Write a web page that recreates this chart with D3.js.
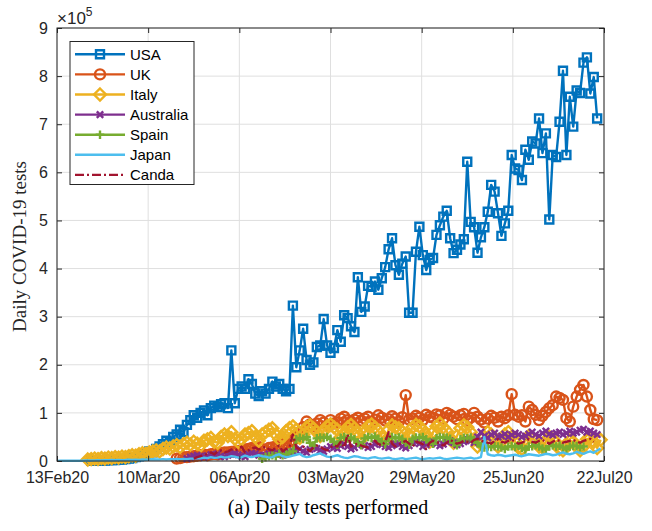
<!DOCTYPE html>
<html>
<head>
<meta charset="utf-8">
<script src="https://cdn.jsdelivr.net/npm/d3@7"></script>
<style>
  body { margin: 0; background: #fff; }
  svg { display: block; }
  .tick text { font-family: "Liberation Sans", Arial, sans-serif; font-size: 16px; fill: #262626; }
</style>
</head>
<body>
<div id="chart"></div>
<script>
// Daily tests (in thousands), one value per day from each series' first day
// day 0 = 13 Feb 2020
const countries = ["USA", "UK", "Italy", "Australia", "Spain", "Japan", "Canda"];
const firstDay = [10, 35, 9, 38, 60, 0, 40];

const usa = [0.5,0.5,1,1,1,2,2,2,3,3,
  4,5,6,8,10,12,15,20,18,25,
  30,35,42,40,50,55,65,60,75,85,
  95,90,100,105,95,110,115,112,118,120,
  110,230,120,150,155,150,170,160,140,135,
  145,140,150,165,155,160,150,145,150,323,
  195,230,275,210,200,205,237,240,295,240,
  225,235,272,248,303,297,280,268,382,310,
  321,364,362,373,356,380,403,440,463,407,
  387,410,425,308,308,435,487,428,397,418,
  422,470,490,508,520,463,432,439,450,461,
  622,497,486,433,465,486,518,574,560,515,
  468,494,520,636,608,605,584,647,626,664,
  660,712,640,681,502,636,632,705,811,636,
  757,695,770,765,828,839,764,798,712];

const uk = [5,6,8,8,9,10,11,12,13,12,14,15,14,16,18,
  18,19,20,21,22,24,25,27,28,29,
  25,22,27,28,30,33,35,37,40,43,
  50,60,70,82,76,72,78,85,80,74,
  85,78,80,88,92,85,82,86,90,84,
  88,92,80,86,95,90,84,87,93,88,
  82,91,137,86,88,94,90,85,96,92,
  90,97,95,88,100,96,92,87,95,98,
  84,90,100,92,86,80,88,94,90,82,
  92,89,95,139,96,92,95,82,113,106,
  96,85,94,102,110,116,134,131,127,89,
  82,113,134,148,158,134,106,87,85];

const italy = [3,4,5,4,6,5,7,6,8,7,9,
  8,10,12,11,14,16,15,18,20,22,
  20,25,28,26,30,33,29,35,38,34,
  40,36,32,42,45,48,40,38,50,55,
  52,60,46,40,45,55,58,62,50,42,
  55,60,65,68,55,45,50,62,68,72,
  65,48,55,70,74,68,60,52,62,72,
  76,70,65,50,58,70,75,68,58,45,
  60,72,76,70,62,50,42,65,74,70,
  68,60,45,55,70,75,72,65,55,40,
  60,72,78,70,62,48,38,52,68,74,
  70,60,45,30,35,50,60,55,45,30,
  40,55,60,50,40,28,25,45,52,48,
  42,30,28,40,50,45,38,25,22,35,
  42,40,30,22,30,45,48,40,27,44];

const australia = [5,8,10,12,10,8,11,13,12,15,10,9,
  12,14,15,13,10,9,14,16,15,12,
  10,12,15,18,16,14,12,15,18,20,
  22,25,20,18,24,28,26,22,20,25,
  30,28,26,32,35,30,25,28,33,36,
  32,28,30,35,38,34,30,28,32,36,
  35,30,27,32,38,40,36,30,34,38,
  40,36,32,35,40,42,38,34,36,40,
  45,42,38,50,60,52,48,55,58,50,
  52,56,50,54,58,55,50,52,56,60,
  55,52,58,62,56,54,58,60,55,58,
  62,58,60,64,66,60,62,58,55];

const spain = [5,8,10,12,10,15,12,14,18,20,
  45,48,46,50,38,32,47,49,48,50,
  46,40,34,48,50,47,49,45,38,33,
  47,50,48,51,46,40,35,48,50,47,
  49,46,38,34,46,49,48,50,45,40,
  36,47,50,48,49,46,38,33,45,48,
  47,49,44,38,30,28,30,29,31,30,
  28,25,30,31,29,32,27,24,30,31,
  33,30,26,24,31,33,30,32,28,25,
  30,32,31,28,30];

const japan = [0.3,0.4,0.5,0.4,0.6,0.5,0.8,0.6,0.9,1,
  1,1.2,1.5,1.3,1.8,1.5,2,1.6,2.2,1.8,
  2,2.5,2,2.8,2.2,3,2.5,3,3.5,3,
  3.2,3.8,3,4,3.5,4.2,3.8,4.5,4,5,
  5,6,5.5,7,6,8,6.5,7,9,7,
  8,10,9,7,8,11,9,8,10,12,
  10,9,7,8,12,14,10,8,9,11,
  13,15,10,8,9,12,14,16,12,9,
  8,10,12,9,7,6,8,10,9,7,
  6,5,7,8,6,5,6,7,5,4,
  5,6,4,5,6,7,5,4,5,6,
  5,6,7,5,4,5,6,7,6,5,
  6,7,5,6,8,50,14,12,11,13,
  12,10,11,12,13,11,10,12,14,13,
  12,11,13,15,14,12,13,16,18,15,
  14,16,19,17,15,18,20,17,22,26];

const canada = [5,8,10,12,15,18,14,20,22,18,
  20,24,22,25,30,18,22,26,28,24,
  26,30,24,22,28,32,20,25,30,55,
  28,24,30,26,20,28,32,30,25,22,
  28,33,30,40,28,55,30,34,36,32,
  30,28,38,42,35,32,40,60,36,30,
  34,38,42,36,30,40,38,35,25,38,
  42,40,36,32,38,44,40,36,38,42,
  40,38,44,46,42,40,38,36,42,45,
  40,38,42,44,40,36,38,42,45,40,
  38,42,44,40,36,40,44,42,38,40,
  42,44,40,38,42,44,46,40];

const seriesValues = [usa, uk, italy, australia, spain, japan, canada];

const xTickLabels = ["13Feb20", "10Mar20", "06Apr20", "03May20", "29May20", "25Jun20", "22Jul20"];
const yTickLabels = ["0", "1", "2", "3", "4", "5", "6", "7", "8", "9"];

const colors = ["#0072BD", "#D95319", "#EDB120", "#7E2F8E", "#77AC30", "#4DBEEE", "#A2142F"];
const markers = ["square", "circle", "diamond", "x", "plus", null, null];

const width = 652, height = 531;
const plotLeft = 57, plotRight = 604, plotTop = 28, plotBottom = 461;

const startDate = new Date(2020, 1, 13);
const endDate = new Date(2020, 6, 22);

const svg = d3.select("#chart").append("svg")
  .attr("width", width)
  .attr("height", height);

const x = d3.scaleTime().domain([startDate, endDate]).range([plotLeft, plotRight]);
const y = d3.scaleLinear().domain([0, 900]).range([plotBottom, plotTop]);

const xTicks = d3.range(7).map(i => new Date(+startDate + i * (endDate - startDate) / 6));
const yTicks = d3.range(0, 901, 100);

// grid
svg.append("g").selectAll("line").data(xTicks).join("line")
  .attr("x1", d => x(d)).attr("x2", d => x(d))
  .attr("y1", plotTop).attr("y2", plotBottom)
  .attr("stroke", "#dfdfdf").attr("stroke-width", 1);
svg.append("g").selectAll("line").data(yTicks).join("line")
  .attr("x1", plotLeft).attr("x2", plotRight)
  .attr("y1", d => y(d)).attr("y2", d => y(d))
  .attr("stroke", "#dfdfdf").attr("stroke-width", 1);

// marker shapes
function markerPath(type, s) {
  if (type === "square") return `M${-s},${-s}H${s}V${s}H${-s}Z`;
  if (type === "circle") return `M${s},0A${s},${s} 0 1 1 ${-s},0A${s},${s} 0 1 1 ${s},0Z`;
  if (type === "diamond") return `M0,${-s}L${s},0L0,${s}L${-s},0Z`;
  if (type === "x") return `M${-s},${-s}L${s},${s}M${-s},${s}L${s},${-s}`;
  if (type === "plus") return `M${-s},0H${s}M0,${-s}V${s}`;
  return "";
}
const markerSize = { square: 4, circle: 5, diamond: 6, x: 3.2, plus: 4.3 };

const line = d3.line().x(d => x(d.date)).y(d => y(d.v));

const plot = svg.append("g");
countries.forEach((name, k) => {
  const pts = seriesValues[k].map((v, i) => ({ date: d3.timeDay.offset(startDate, firstDay[k] + i), v }));
  const g = plot.append("g");
  g.append("path")
    .datum(pts)
    .attr("d", line)
    .attr("fill", "none")
    .attr("stroke", colors[k])
    .attr("stroke-width", 2.4)
    .attr("stroke-linejoin", "round")
    .attr("stroke-dasharray", k === 6 ? "9,3,2,3" : null);
  if (markers[k]) {
    g.selectAll("path.m").data(pts).join("path")
      .attr("class", "m")
      .attr("transform", d => `translate(${x(d.date)},${y(d.v)})`)
      .attr("d", markerPath(markers[k], markerSize[markers[k]]))
      .attr("fill", "none")
      .attr("stroke", colors[k])
      .attr("stroke-width", 2.4);
  }
});

// axes
const axisColor = "#262626";
const xAxis = svg.append("g").attr("transform", `translate(0,${plotBottom})`)
  .call(d3.axisBottom(x).tickValues(xTicks).tickSize(-5).tickPadding(11)
    .tickFormat((d, i) => xTickLabels[i]));
const xAxisTop = svg.append("g").attr("transform", `translate(0,${plotTop})`)
  .call(d3.axisTop(x).tickValues(xTicks).tickSize(-5).tickFormat(""));
const yAxis = svg.append("g").attr("transform", `translate(${plotLeft},0)`)
  .call(d3.axisLeft(y).tickValues(yTicks).tickSize(-5).tickPadding(9)
    .tickFormat((d, i) => yTickLabels[i]));
const yAxisRight = svg.append("g").attr("transform", `translate(${plotRight},0)`)
  .call(d3.axisRight(y).tickValues(yTicks).tickSize(-5).tickFormat(""));
[xAxis, xAxisTop, yAxis, yAxisRight].forEach(a => {
  a.select(".domain").remove();
  a.selectAll(".tick line").attr("stroke", axisColor);
});

svg.append("rect")
  .attr("x", plotLeft).attr("y", plotTop)
  .attr("width", plotRight - plotLeft).attr("height", plotBottom - plotTop)
  .attr("fill", "none").attr("stroke", axisColor).attr("stroke-width", 1);

// exponent
const expo = svg.append("text")
  .attr("x", plotLeft).attr("y", 24)
  .attr("font-family", "Liberation Sans, Arial, sans-serif")
  .attr("font-size", 17).attr("fill", axisColor);
expo.append("tspan").text("\u00d710");
expo.append("tspan").attr("font-size", 12).attr("dy", -8).text("5");

// y label
svg.append("text")
  .attr("transform", `translate(26,${(plotTop + plotBottom) / 2 + 2}) rotate(-90)`)
  .attr("text-anchor", "middle")
  .attr("font-family", "Liberation Serif, Times New Roman, serif")
  .attr("font-size", 19).attr("fill", axisColor)
  .text("Daily COVID-19 tests");

// caption
svg.append("text")
  .attr("x", 328).attr("y", 514)
  .attr("text-anchor", "middle")
  .attr("font-family", "Liberation Serif, Times New Roman, serif")
  .attr("font-size", 20).attr("fill", "#000")
  .text("(a) Daily tests performed");

// legend
const legend = svg.append("g");
legend.append("rect")
  .attr("x", 70).attr("y", 41.5)
  .attr("width", 124).attr("height", 143)
  .attr("fill", "#fff").attr("stroke", axisColor).attr("stroke-width", 1);
countries.forEach((name, k) => {
  const ly = 54.3 + k * 20.1;
  legend.append("line")
    .attr("x1", 75).attr("x2", 125).attr("y1", ly).attr("y2", ly)
    .attr("stroke", colors[k]).attr("stroke-width", 2.4)
    .attr("stroke-dasharray", k === 6 ? "9,3,2,3" : null);
  if (markers[k]) {
    legend.append("path")
      .attr("transform", `translate(100,${ly})`)
      .attr("d", markerPath(markers[k], markerSize[markers[k]]))
      .attr("fill", "none").attr("stroke", colors[k]).attr("stroke-width", 2.4);
  }
  legend.append("text")
    .attr("x", 130).attr("y", ly + 5.5)
    .attr("font-family", "Liberation Sans, Arial, sans-serif")
    .attr("font-size", 15).attr("fill", "#000")
    .text(name);
});
</script>
</body>
</html>
